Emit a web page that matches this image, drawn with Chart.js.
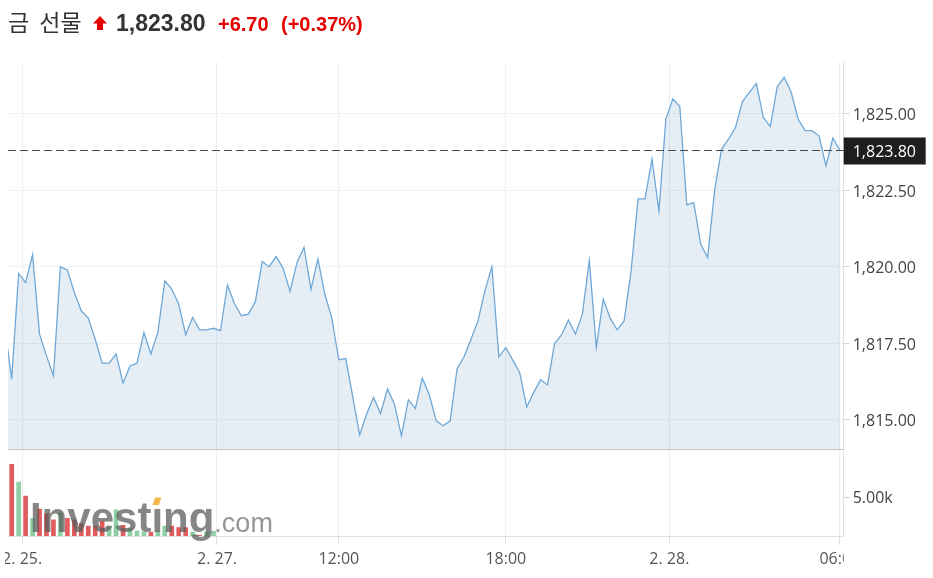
<!DOCTYPE html>
<html>
<head>
<meta charset="utf-8">
<script src="https://cdn.jsdelivr.net/npm/chart.js@4.4.1/dist/chart.umd.min.js"></script>
<style>
html,body{margin:0;padding:0;background:#fff;}
#wrap{position:relative;width:933px;height:578px;overflow:hidden;background:#fff;}
#c{position:absolute;left:0;top:0;}
#hdr{position:absolute;left:8px;top:4px;display:flex;align-items:baseline;white-space:nowrap;z-index:2;}
#hdr span{display:inline-block;}
.name{width:85px;font:23px "Noto Sans CJK KR","Noto Sans",sans-serif;color:#333;word-spacing:5px;}
.arr{width:23px;}
.arr svg{position:relative;top:-1px;}
.last{width:102px;font:bold 23px "Liberation Sans",Arial,sans-serif;color:#333;}
.chg{width:63px;font:bold 20px "Liberation Sans",Arial,sans-serif;color:#e60000;}
.pct{font:bold 20px "Liberation Sans",Arial,sans-serif;color:#e60000;}
</style>
</head>
<body>
<div id="wrap">
<canvas id="c" width="933" height="578"></canvas>
<div id="hdr">
  <span class="name">금 선물</span>
  <span class="arr"><svg width="14" height="14" viewBox="0 0 13 13"><polygon points="6.5,0 13,7 9.3,7 9.3,13 3.7,13 3.7,7 0,7" fill="#e60000"/></svg></span>
  <span class="last">1,823.80</span>
  <span class="chg">+6.70</span>
  <span class="pct">(+0.37%)</span>
</div>
</div>
<script>
// 15-minute bars, index 0..120
const prices = [
1818.04, 1816.33, 1819.78, 1819.48, 1820.39, 1817.80, 1817.09, 1816.44, 1820.00, 1819.89,
1819.16, 1818.56, 1818.32, 1817.63, 1816.85, 1816.85, 1817.15, 1816.20, 1816.76, 1816.85,
1817.85, 1817.15, 1817.85, 1819.54, 1819.27, 1818.78, 1817.78, 1818.34, 1817.94, 1817.94,
1817.99, 1817.91, 1819.41, 1818.80, 1818.40, 1818.45, 1818.85, 1820.17, 1820.00, 1820.33,
1819.95, 1819.19, 1820.14, 1820.63, 1819.27, 1820.25, 1819.10, 1818.32, 1816.96, 1817.00,
1815.76, 1814.51, 1815.19, 1815.73, 1815.21, 1816.01, 1815.51, 1814.48, 1815.66, 1815.37,
1816.36, 1815.82, 1814.97, 1814.81, 1814.97, 1816.67, 1817.06, 1817.63, 1818.23, 1819.21,
1820.00, 1817.06, 1817.36, 1816.95, 1816.54, 1815.42, 1815.89, 1816.31, 1816.14, 1817.49,
1817.77, 1818.26, 1817.80, 1818.45, 1820.21, 1817.36, 1818.94, 1818.32, 1817.94, 1818.23,
1819.86, 1822.21, 1822.21, 1823.51, 1821.82, 1824.82, 1825.47, 1825.23, 1822.02, 1822.09,
1820.74, 1820.30, 1822.48, 1823.84, 1824.16, 1824.54, 1825.39, 1825.69, 1825.98, 1824.87,
1824.58, 1825.87, 1826.18, 1825.69, 1824.82, 1824.44, 1824.44, 1824.27, 1823.29, 1824.20,
1823.80
];
// volume only available for the first session
const volumes = [
null, 9300, 7000, 5200, 2300, 3500, 2900, 2100, 3000, 2300,
2100, 1600, 1300, 1300, 1900, 1200, 3400, 1400, 1000, 650,
550, 500, 650, 1300, 1300, 1100, 1100, 500, 100, 550,
600
];
const xTickPos = [2.5, 30.5, 48, 72, 95.5, 120];
const xTickLabels = ['2. 25.', '2. 27.', '12:00', '18:00', '2. 28.', '06:00'];
const priceTicks = [1815, 1817.5, 1820, 1822.5, 1825];
const volTicks = [5000];

const UP = 'rgba(135,203,160,0.95)';
const DOWN = 'rgba(222,78,78,0.92)';
const fmtPrice = v => v.toLocaleString('en-US', {minimumFractionDigits: 2, maximumFractionDigits: 2});
const FONT = '"Open Sans","Noto Sans",sans-serif';

const lineData = prices.map((v, i) => ({x: i, y: v}));
const volData = prices.map((v, i) => ({x: i, y: volumes[i] ?? null}));
const volColors = prices.map((v, i) => (i > 0 && v < prices[i - 1]) ? DOWN : UP);

const overlay = {
  id: 'overlay',
  afterDatasetsDraw(chart) {
    const {ctx, chartArea: ca} = chart;
    // watermark
    ctx.save();
    const x0 = ca.left + 22, yb = ca.bottom - 4;
    ctx.font = 'bold 42px "Liberation Sans", Arial, sans-serif';
    ctx.fillStyle = 'rgba(92,92,92,0.74)';
    ctx.textBaseline = 'alphabetic';
    const p1 = 'Invest', p2 = '\u0131', p3 = 'ng';
    ctx.fillText(p1, x0, yb);
    const w1 = ctx.measureText(p1).width;
    ctx.fillText(p2, x0 + w1, yb);
    const w2 = ctx.measureText(p2).width;
    ctx.fillText(p3, x0 + w1 + w2, yb);
    const w3 = ctx.measureText(p3).width;
    const cx = x0 + w1 + w2 / 2;
    ctx.fillStyle = 'rgba(246,178,52,0.9)';
    ctx.beginPath();
    ctx.moveTo(cx - 2.2, yb - 34.5);
    ctx.lineTo(cx + 4.2, yb - 34.5);
    ctx.lineTo(cx + 1.6, yb - 27);
    ctx.lineTo(cx - 4.8, yb - 27);
    ctx.closePath();
    ctx.fill();
    ctx.font = '27px "Liberation Sans", Arial, sans-serif';
    ctx.fillStyle = 'rgba(110,110,110,0.72)';
    ctx.fillText('.com', x0 + w1 + w2 + w3, yb);
    ctx.restore();
  },
  afterDraw(chart) {
    const {ctx, chartArea: ca, scales} = chart;
    const ys = scales.y, xs = scales.x;
    ctx.save();
    // panel separator
    const sy = Math.round(ys.bottom) + 0.5;
    ctx.strokeStyle = '#c4c4c4';
    ctx.lineWidth = 1;
    ctx.beginPath(); ctx.moveTo(ca.left, sy); ctx.lineTo(ca.right, sy); ctx.stroke();
    // last price dashed line
    const last = prices[prices.length - 1];
    const py = Math.round(ys.getPixelForValue(last)) + 0.5;
    ctx.setLineDash([8, 4]);
    ctx.strokeStyle = '#4a4a4a';
    ctx.beginPath(); ctx.moveTo(ca.left, py); ctx.lineTo(ca.right, py); ctx.stroke();
    ctx.setLineDash([]);
    // last price label
    ctx.fillStyle = '#1e1e1e';
    ctx.fillRect(ca.right, py - 13, 82, 27);
    ctx.fillStyle = '#ffffff';
    ctx.font = '16px ' + FONT;
    ctx.textBaseline = 'middle';
    ctx.textAlign = 'left';
    ctx.fillText(fmtPrice(last), ca.right + 9, py + 2);
    // x labels (clipped to the plot width)
    ctx.beginPath();
    ctx.rect(5, xs.top, ca.right - 5, xs.bottom - xs.top);
    ctx.clip();
    ctx.font = '16px ' + FONT;
    ctx.fillStyle = '#555';
    ctx.textAlign = 'center';
    ctx.textBaseline = 'middle';
    xTickPos.forEach((p, i) => ctx.fillText(xTickLabels[i], xs.getPixelForValue(p), xs.top + 23));
    ctx.restore();
  }
};

new Chart(document.getElementById('c'), {
  data: {
    datasets: [
      {
        type: 'line', data: lineData, yAxisID: 'y', xAxisID: 'x',
        borderColor: '#6fa8d6', borderWidth: 1.3,
        backgroundColor: 'rgba(110,155,200,0.18)', fill: 'start',
        pointRadius: 0, tension: 0
      },
      {
        type: 'bar', data: volData, yAxisID: 'vol', xAxisID: 'x',
        backgroundColor: volColors, barThickness: 4, borderWidth: 0
      }
    ]
  },
  options: {
    responsive: false,
    animation: false,
    layout: {padding: {left: 8, top: 62, right: 0, bottom: 0}},
    plugins: {legend: {display: false}, tooltip: {enabled: false}},
    scales: {
      x: {
        type: 'linear', min: 0.47, max: 120.55, offset: false,
        afterBuildTicks: s => { s.ticks = xTickPos.map(v => ({value: v})); },
        ticks: {display: false},
        grid: {offset: false, color: '#eceef2', tickLength: 9, tickColor: '#dde1e7'},
        border: {color: '#dde1e7'},
        afterFit: s => { s.height = 42; }
      },
      y: {
        type: 'linear', position: 'right', stack: 'p', stackWeight: 387,
        min: 1814.05, max: 1826.68,
        afterBuildTicks: s => { s.ticks = priceTicks.map(v => ({value: v})); },
        ticks: {callback: v => fmtPrice(v), color: '#444', font: {family: FONT, size: 16}, padding: 3, labelOffset: 2},
        grid: {color: '#f1f2f4', tickLength: 6, tickColor: '#cfd3da'},
        border: {color: '#e0e3e9'},
        afterFit: s => { s.width = 89.3; }
      },
      vol: {
        type: 'linear', position: 'right', stack: 'p', stackWeight: 87,
        min: 0, max: 11300,
        afterBuildTicks: s => { s.ticks = volTicks.map(v => ({value: v})); },
        ticks: {callback: v => (v / 1000).toFixed(2) + 'k', color: '#444', font: {family: FONT, size: 16}, padding: 3, labelOffset: 1},
        grid: {drawOnChartArea: false, tickLength: 6, tickColor: '#cfd3da'},
        border: {color: '#e0e3e9'},
        afterFit: s => { s.width = 89.3; }
      }
    }
  },
  plugins: [overlay]
});
</script>
</body>
</html>
